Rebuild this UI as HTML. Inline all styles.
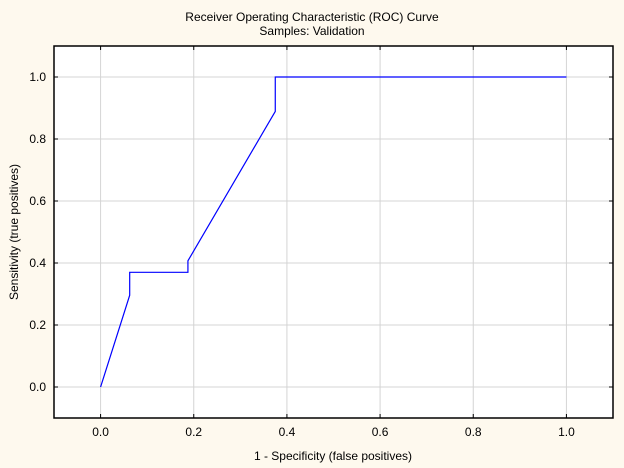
<!DOCTYPE html>
<html><head><meta charset="utf-8"><style>
html,body{margin:0;padding:0;background:#fef9ee;}
svg{display:block;font-family:"Liberation Sans",Arial,sans-serif;}
</style></head><body>
<svg id="c" width="624" height="468">
<rect width="624" height="468" fill="#fef9ee"/>
<text x="312" y="21" font-size="12" text-anchor="middle">Receiver Operating Characteristic (ROC) Curve</text>
<text x="312" y="35" font-size="12" text-anchor="middle">Samples: Validation</text>
<text x="333" y="460" font-size="12" text-anchor="middle">1 - Specificity (false positives)</text>
<text transform="translate(18,232) rotate(-90)" font-size="12" text-anchor="middle">Sensitivity (true positives)</text>
<g id="plot"></g>
</svg>
<script>
const xTicks=[0,0.2,0.4,0.6,0.8,1.0];
const yTicks=[0,0.2,0.4,0.6,0.8,1.0];
const rocX=[0,0.0625,0.0625,0.1875,0.1875,0.375,0.375,1.0];
const rocY=[0,0.296,0.37,0.37,0.407,0.889,1.0,1.0];
const L=54,R=613,T=46,B=418;
const xs=v=>L+(v+0.1)/1.2*(R-L);
const ys=v=>B-(v+0.1)/1.2*(B-T);
const g=document.getElementById('plot');
const NS='http://www.w3.org/2000/svg';
function mk(t,a){const e=document.createElementNS(NS,t);for(const k in a)e.setAttribute(k,a[k]);g.appendChild(e);return e;}
const bg=mk('rect',{x:L,y:T,width:R-L,height:B-T,fill:'#fff'});


xTicks.forEach(v=>{const x=xs(v);
const l=mk('line',{x1:x,x2:x,y1:T,y2:B,stroke:'#d4d4d4'});


mk('line',{x1:x,x2:x,y1:B,y2:B-4,stroke:'#000'});
mk('line',{x1:x,x2:x,y1:T,y2:T+4,stroke:'#000'});
const t=mk('text',{x:x,y:B+18,'font-size':12,'text-anchor':'middle'});t.textContent=v.toFixed(1);

});
yTicks.forEach(v=>{const y=ys(v);
const l=mk('line',{x1:L,x2:R,y1:y,y2:y,stroke:'#d4d4d4'});


mk('line',{x1:L,x2:L+4,y1:y,y2:y,stroke:'#000'});
mk('line',{x1:R,x2:R-4,y1:y,y2:y,stroke:'#000'});
const t=mk('text',{x:L-8,y:y+4,'font-size':12,'text-anchor':'end'});t.textContent=v.toFixed(1);

});
const fr=mk('rect',{x:L,y:T,width:R-L,height:B-T,fill:'none',stroke:'#000','stroke-width':1.5});


const p=mk('polyline',{points:rocX.map((x,i)=>xs(x)+','+ys(rocY[i])).join(' '),fill:'none',stroke:'#0000ff','stroke-width':1.2});


</script>
</body></html>
